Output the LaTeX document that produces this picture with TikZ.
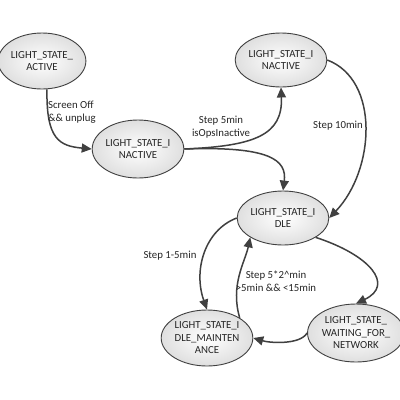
\documentclass[tikz,border=0pt]{standalone}
\usepackage{fontspec}
\setmainfont{Carlito}
\usetikzlibrary{shapes.geometric,arrows.meta}
\definecolor{edgec}{HTML}{404040}
\definecolor{textc}{HTML}{262626}
\tikzset{
  state/.style={ellipse, draw=edgec, line width=0.9pt, minimum width=82pt, minimum height=56pt,
    inner sep=0pt, align=center, font=\fontsize{10.8}{12.5}\selectfont, text=textc,
    inner color=white, outer color=gray!25},
  conn/.style={draw=edgec, line width=1.5pt, -{Triangle[length=10pt,width=9pt]}},
  lbl/.style={font=\fontsize{10.8}{12.5}\selectfont, text=textc, inner sep=0pt}
}
\begin{document}
\begin{tikzpicture}[x=1pt,y=-1pt]
\useasboundingbox[fill=white] (0,0) rectangle (400,400);
\node[state] (act) at (42,61) {LIGHT\_STATE\_\\ACTIVE};
\node[state, minimum width=78pt, minimum height=58pt] (ina) at (138,149) {LIGHT\_STATE\_I\\NACTIVE};
\node[state, minimum width=84pt, minimum height=54pt] (inb) at (281,60) {LIGHT\_STATE\_I\\NACTIVE};
\node[state, minimum height=54pt] (idle) at (283,218) {LIGHT\_STATE\_I\\DLE};
\node[state] (maint) at (207,338) {LIGHT\_STATE\_I\\DLE\_MAINTEN\\ANCE};
\node[state, minimum height=58pt] (wait) at (356,333) {LIGHT\_STATE\_\\WAITING\_FOR\_\\NETWORK};

\coordinate (c1) at (47,89);
\draw[conn] (act.south -| c1) .. controls (46,140) and (60,146) .. (ina.west);
\draw[conn] (ina.east) .. controls (255,146) and (283,135) .. (inb.south);
\draw[conn] (ina.east) .. controls (270,146) and (287,160) .. (idle.north);
\draw[conn] (inb.east) .. controls (380,80) and (375,170) .. (idle.east);
\draw[conn] (idle.west) .. controls (205,230) and (193,270) .. (maint.north);
\draw[conn] (maint.north east) .. controls (230,285) and (245,262) .. (idle.south west);
\draw[conn] (idle.south east) .. controls (370,255) and (395,285) .. (wait.north);
\draw[conn] (wait.west) .. controls (300,345) and (270,343) .. (maint.east);

\node[lbl, align=left, anchor=west] (l1) at (48,112) {Screen Off\\\&\& unplug};
\node[lbl, align=center] (l2) at (221,127) {Step 5min\\isOpsInactive};
\node[lbl] (l3) at (338,126) {Step 10min};
\node[lbl] (l4) at (170,256) {Step 1-5min};
\node[lbl, align=center] (l5) at (276,281) {Step 5*2\textasciicircum min\\>5min \&\& <15min};
\end{tikzpicture}
\end{document}
